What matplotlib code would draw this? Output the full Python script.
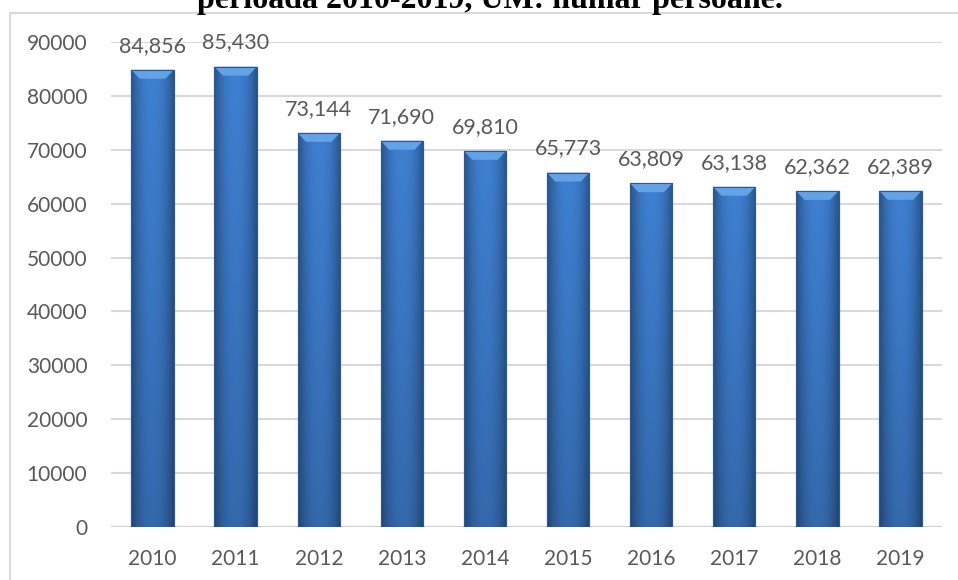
#!/usr/bin/env python3
# -*- coding: utf-8 -*-

import numpy as np
import matplotlib
matplotlib.use("Agg")
from matplotlib import pyplot as plt
from matplotlib.patches import Rectangle, Polygon

years = ["2010", "2011", "2012", "2013", "2014", "2015", "2016", "2017", "2018", "2019"]
persons = [84856, 85430, 73144, 71690, 69810, 65773, 63809, 63138, 62362, 62389]
yticks = [0, 10000, 20000, 30000, 40000, 50000, 60000, 70000, 80000, 90000]
title = "perioada 2010-2019, UM: număr persoane."

W, H = 958, 580
fig = plt.figure(figsize=(W / 100, H / 100), dpi=100)
fig.patch.set_facecolor("white")

# chart frame (only left and top edges visible in the crop)
fig.patches.append(Rectangle((10 / W, -0.1), 1.2, 1 - 13 / H + 0.1, transform=fig.transFigure,
                             fill=False, edgecolor="#d9d9d9", linewidth=1.5))

# title, cut off at the top edge like in the source screenshot
fig.text(490 / W, 1 - 8 / H, title, ha="center", va="baseline", fontsize=23,
         fontweight="bold", family="Liberation Serif", color="black")

ax = fig.add_axes([111 / W, 53 / H, 831 / W, 485 / H])
ax.set_xlim(-0.5, len(years) - 0.5)
ax.set_ylim(0, 90000)
ax.set_yticks(yticks)
ax.set_yticklabels([str(v) for v in yticks])
ax.set_xticks(range(len(years)))
ax.set_xticklabels(years)
for s in ax.spines.values():
    s.set_visible(False)
ax.tick_params(length=0, labelsize=15, labelcolor="#595959")
ax.tick_params(axis="y", pad=17)
ax.tick_params(axis="x", pad=16)
for lab in ax.get_xticklabels() + ax.get_yticklabels():
    lab.set_family("Lato")
ax.grid(axis="y", color="#d9d9d9", linewidth=1.5)
ax.set_axisbelow(True)

bw = 0.51
x = np.arange(len(years))
bars = ax.bar(x, persons, width=bw, color="#3a78c6", edgecolor="#2c5a96", linewidth=0.8, zorder=2)

# horizontal shading across each bar: darker edges, lighter middle
prof = np.linspace(-1, 1, 60)
shade = 1 - 0.35 * np.abs(prof) ** 2.2
base = np.array([0x3f, 0x80, 0xd2]) / 255
vert = np.linspace(0.82, 1.0, 80)[:, None]
img = np.clip(base[None, None, :] * shade[None, :, None] * vert[:, :, None], 0, 1)
px_per_unit = 485 / 90000
bev = 9 / px_per_unit
for xi, b, v in zip(x, bars, persons):
    im = ax.imshow(img, extent=(xi - bw / 2, xi + bw / 2, 0, v), origin="lower",
                   aspect="auto", zorder=2.5, interpolation="bilinear")
    im.set_clip_path(b)
    # top bevel
    inset = bw * 0.2
    ax.add_patch(Polygon([(xi - bw / 2, v), (xi + bw / 2, v),
                          (xi + bw / 2 - inset, v - bev), (xi - bw / 2 + inset, v - bev)],
                         closed=True, facecolor="#64a2e6", edgecolor="none", zorder=3))
    ax.add_patch(Rectangle((xi - bw / 2, 0), bw, v, fill=False, edgecolor="#2c5a96",
                           linewidth=0.8, zorder=3.5))
    ax.annotate(f"{v:,}", (xi, v), xytext=(0, 13), textcoords="offset points",
                ha="center", va="baseline", fontsize=15.5, color="#595959", family="Lato")

ax.axhline(0, color="#d0d0d0", linewidth=1.5, zorder=1)

fig.savefig("out.png", dpi=100)
